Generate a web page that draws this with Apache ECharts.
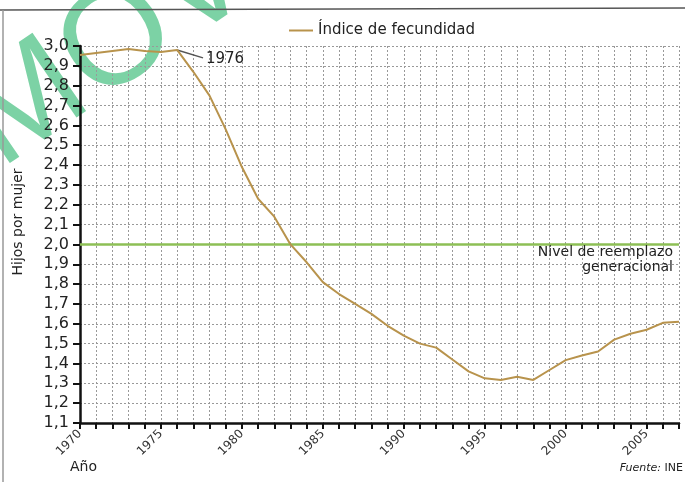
<!DOCTYPE html>
<html>
<head>
<meta charset="utf-8">
<script src="https://cdn.jsdelivr.net/npm/echarts@6/dist/echarts.min.js"></script>
<style>
html,body{margin:0;padding:0;background:#fff;}
#c{width:685px;height:482px;}
</style>
</head>
<body>
<div id="c"></div>
<script>
const years = [1970,1971,1972,1973,1974,1975,1976,1977,1978,1979,1980,1981,1982,1983,1984,1985,1986,1987,1988,1989,1990,1991,1992,1993,1994,1995,1996,1997,1998,1999,2000,2001,2002,2003,2004,2005,2006,2007];
const fecundidad = [2.955,2.965,2.975,2.985,2.975,2.97,2.98,2.87,2.75,2.58,2.39,2.23,2.14,2.00,1.91,1.81,1.75,1.70,1.65,1.59,1.54,1.50,1.48,1.42,1.36,1.325,1.317,1.333,1.317,1.367,1.417,1.44,1.46,1.52,1.55,1.57,1.605,1.61];
const seriesName = 'Índice de fecundidad';
const replacementLevel = 2.0;
const replacementLabel = 'Nivel de reemplazo\ngeneracional';
const peakYear = 1976;
const peakValue = 2.98;
const yMin = 1.1, yMax = 3.0, yStep = 0.1;
const xMin = 1970, xMax = 2007;

const chart = echarts.init(document.getElementById('c'));
const font = 'DejaVu Sans';
chart.setOption({
  animation: false,
  backgroundColor: '#fff',
  grid: {left: 80, right: 6, top: 46, bottom: 59},
  legend: {
    left: 284, top: 18,
    icon: 'rect', itemWidth: 24, itemHeight: 2,
    textStyle: {fontFamily: font, fontSize: 15, color: '#222'},
    data: [seriesName]
  },
  xAxis: {
    type: 'value', min: xMin, max: xMax, interval: 1,
    axisLine: {show: true, onZero: false, lineStyle: {color: '#111', width: 2.5}},
    axisTick: {show: true, length: 6, lineStyle: {color: '#111', width: 2}},
    axisLabel: {
      rotate: 45, margin: 9, fontFamily: font, fontSize: 12, color: '#333',
      formatter: v => (v % 5 === 0 ? String(v) : '')
    },
    splitLine: {show: true, lineStyle: {color: '#999', type: [2, 2], width: 1}}
  },
  yAxis: {
    type: 'value', min: yMin, max: yMax, interval: yStep,
    axisLine: {show: true, lineStyle: {color: '#111', width: 2.5}},
    axisTick: {show: true, length: 7, lineStyle: {color: '#111', width: 2}},
    axisLabel: {
      margin: 11, fontFamily: font, fontSize: 16, color: '#222',
      formatter: v => v.toFixed(1).replace('.', ',')
    },
    splitLine: {show: true, lineStyle: {color: '#999', type: [2, 2], width: 1}}
  },
  series: [{
    name: seriesName,
    type: 'line',
    data: years.map((y, i) => [y, fecundidad[i]]),
    symbol: 'none',
    lineStyle: {color: '#b8934c', width: 2},
    itemStyle: {color: '#b8934c'},
    z: 5,
    markLine: {
      silent: true, symbol: 'none', animation: false,
      data: [
        [
          {coord: [xMin, replacementLevel], lineStyle: {color: '#8dbf55', width: 2.5, type: 'solid'},
           label: {show: true, position: 'insideEndBottom', formatter: replacementLabel, fontFamily: font, fontSize: 14, color: '#222', align: 'right', lineHeight: 15, distance: [6, 0]}},
          {coord: [xMax, replacementLevel]}
        ],
        [
          {coord: [peakYear, peakValue], lineStyle: {color: '#555', width: 1.5, type: 'solid'},
           label: {show: true, position: 'end', formatter: String(peakYear), fontFamily: font, fontSize: 15, color: '#222', distance: 3}},
          {coord: [peakYear + 1.6, peakValue - 0.04]}
        ]
      ]
    }
  }],
  graphic: [
    {type: 'text', x: 18, y: 195, rotation: 0.6, z: -10, silent: true, style: {
      text: 'MOV', fontFamily: 'Liberation Sans', fontWeight: 'normal', fontSize: 138,
      fill: 'rgba(110,205,155,0.9)', textVerticalAlign: 'bottom'
    }},
    {type: 'line', shape: {x1: 0, y1: 10, x2: 685, y2: 8}, style: {stroke: '#555', lineWidth: 1.5}, z: 1},
    {type: 'line', shape: {x1: 3, y1: 10, x2: 3, y2: 482}, style: {stroke: '#999', lineWidth: 1.5}, z: 1},
    {type: 'text', x: 18, y: 222, rotation: Math.PI / 2, style: {
      text: 'Hijos por mujer', fontFamily: font, fontSize: 14, fill: '#222',
      textAlign: 'center', textVerticalAlign: 'middle'
    }},
    {type: 'text', left: 70, top: 460, style: {text: 'Año', fontFamily: font, fontSize: 14, fill: '#222'}},
    {type: 'text', right: 2, top: 463, style: {
      text: '{i|Fuente:} INE', fontFamily: font, fontSize: 11, fill: '#222',
      rich: {i: {fontStyle: 'italic', fontFamily: font, fontSize: 11, fill: '#222'}}
    }}
  ]
});
</script>
</body>
</html>
